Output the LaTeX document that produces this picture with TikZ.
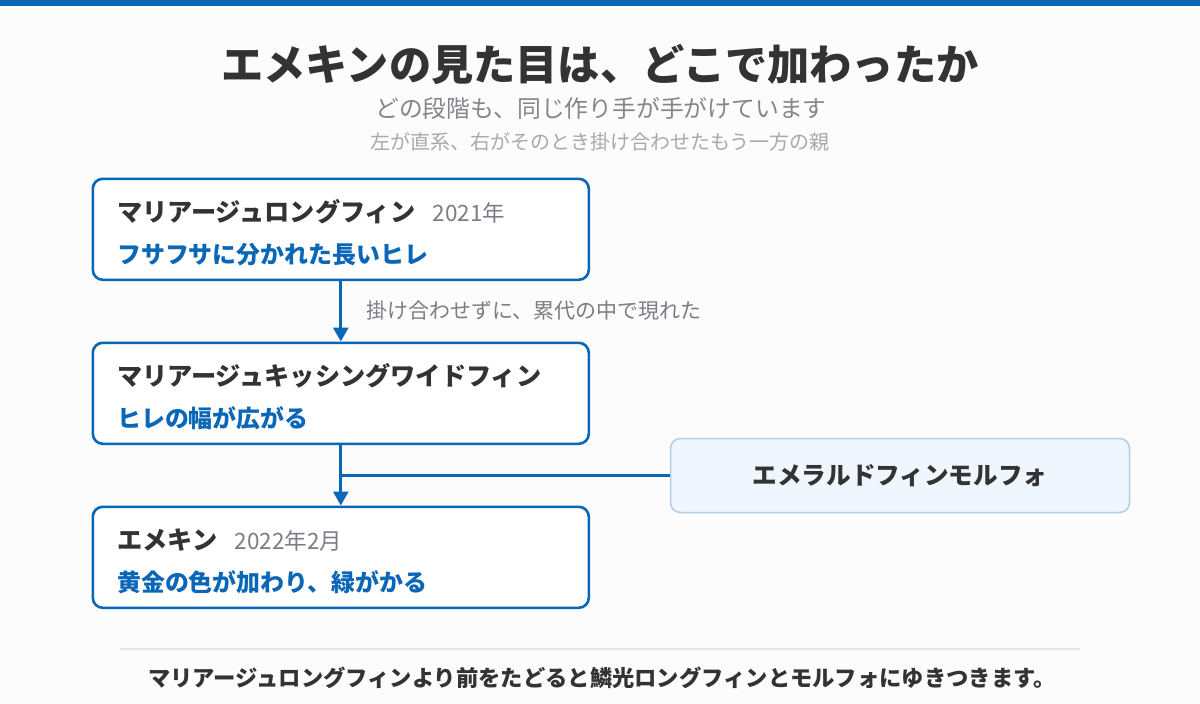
\documentclass[tikz,border=0pt]{standalone}
\usepackage{fontspec}
\setmainfont{Noto Sans CJK JP}
\usetikzlibrary{arrows.meta}
\definecolor{mainblue}{HTML}{0A67B7}
\definecolor{darktext}{HTML}{333333}
\definecolor{subgray}{HTML}{85858C}
\definecolor{lightgray}{HTML}{A8A8AE}
\definecolor{labelgray}{HTML}{7C7C84}
\definecolor{bgcol}{HTML}{FCFCFC}
\definecolor{emfill}{HTML}{EFF6FD}
\definecolor{emdraw}{HTML}{B6CCE0}
\definecolor{sepcol}{HTML}{E2E5E9}
\newcommand{\fs}[1]{\fontsize{#1}{#1}\selectfont}
\tikzset{
  stagebox/.style={draw=mainblue, line width=2.6pt, fill=white, rounded corners=10pt,
    minimum width=496pt, minimum height=101pt, inner sep=0pt, anchor=north west},
  sidebox/.style={draw=emdraw, line width=1.5pt, fill=emfill, rounded corners=10pt,
    minimum width=459pt, minimum height=74pt, inner sep=0pt, anchor=north west},
  nametext/.style={font=\fs{25.2}\bfseries, text=darktext, inner sep=0pt, anchor=base west},
  datetext/.style={font=\fs{22.5}, text=labelgray, inner sep=0pt, anchor=base west},
  traittext/.style={font=\fs{23.9}\bfseries, text=mainblue, inner sep=0pt, anchor=west},
  link/.style={draw=mainblue, line width=3pt},
  linkarrow/.style={link, -{Triangle[length=14pt,width=15pt]}},
}
\begin{document}
\begin{tikzpicture}[x=1pt,y=-1pt]
\useasboundingbox (0,0) rectangle (1200,704);
\fill[bgcol] (0,0) rectangle (1200,704);
\fill[mainblue] (0,0) rectangle (1200,6);

\node[font=\fs{42.2}\bfseries, text=darktext, inner sep=0pt] (title) at (600,65) {エメキンの見た目は、どこで加わったか};
\node[font=\fs{23.8}, text=subgray, inner sep=0pt] (sub) at (601,108) {どの段階も、同じ作り手が手がけています};
\node[font=\fs{20}, text=lightgray, inner sep=0pt] (note) at (600,142) {左が直系、右がそのとき掛け合わせたもう一方の親};

% boxes
\node[stagebox] (b1) at (91.5,177.5) {};
\node[stagebox] (b2) at (91.5,341.5) {};
\node[stagebox] (b3) at (91.5,505.5) {};
\node[sidebox] (em) at (669.75,437.75) {};

% box 1
\node[nametext] (n1) at (117,221.5) {マリアージュロングフィン};
\node[datetext] (d1) at ([xshift=17pt]n1.base east) {2021年};
\node[traittext] (t1) at (117,255) {フサフサに分かれた長いヒレ};
% box 2
\node[nametext] (n2) at (117,385.5) {マリアージュキッシングワイドフィン};
\node[traittext] (t2) at (117,418) {ヒレの幅が広がる};
% box 3
\node[nametext] (n3) at (117,549.5) {エメキン};
\node[datetext] (d3) at ([xshift=17pt]n3.base east) {2022年2月};
\node[traittext] (t3) at (117,582) {黄金の色が加わり、緑がかる};
% side
\node[font=\fs{24.6}\bfseries, text=darktext, inner sep=0pt] (emt) at (em.center) {エメラルドフィンモルフォ};

% connectors
\draw[linkarrow] (b1.south) -- (b2.north);
\node[font=\fs{21}, text=labelgray, inner sep=0pt, anchor=west] (l1) at (366,311) {掛け合わせずに、累代の中で現れた};
\draw[linkarrow] (b2.south) -- (b3.north);
\draw[link] (em.west) -- (em.west -| b2.south);

% footer
\coordinate (s1) at (120,649);
\coordinate (s2) at (1080,649);
\draw[sepcol, line width=2pt] (s1) -- (s2);
\node[font=\fs{22.3}\bfseries, text=darktext, inner sep=0pt] (foot) at (602,678) {マリアージュロングフィンより前をたどると鱗光ロングフィンとモルフォにゆきつきます。};
\end{tikzpicture}
\end{document}
